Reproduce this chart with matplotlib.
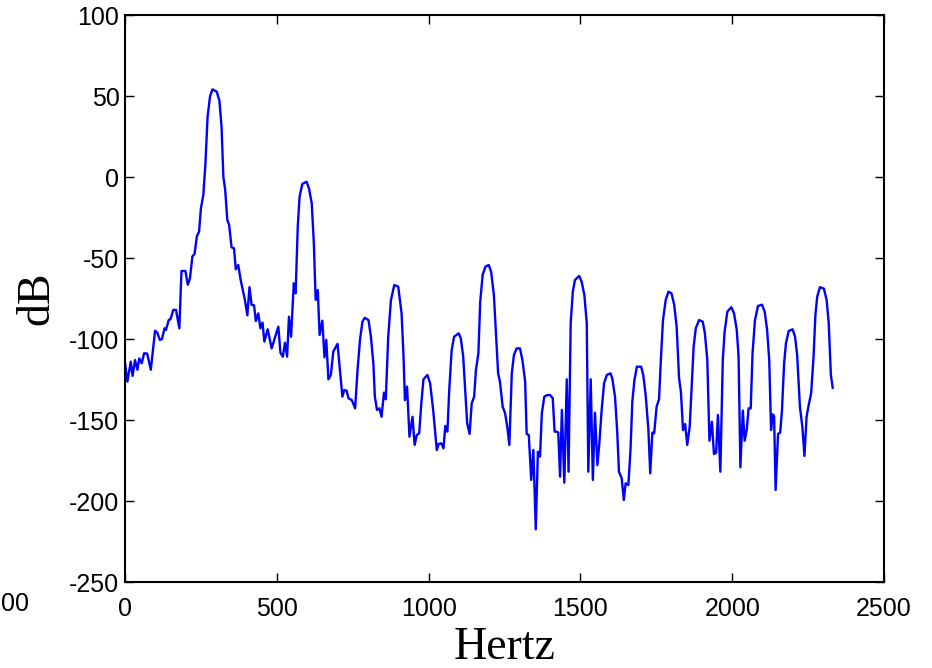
import matplotlib
matplotlib.use("Agg")
import matplotlib.pyplot as plt
import numpy as np

# Frequency (Hz) and magnitude (dB)
hertz = [0, 8, 19, 25, 33, 41, 47, 55, 63, 73, 85, 99, 106, 115, 122, 130, 135, 144, 150, 159,
         168, 179, 186, 199, 207, 214, 222, 229, 237, 244, 250, 258, 265, 272, 280, 288, 302, 311,
         318, 324, 330, 337, 343, 351, 359, 365, 373, 381, 395, 403, 410, 417, 425, 431, 439, 446,
         453, 459, 470, 483, 505, 512, 520, 527, 534, 540, 547, 556, 562, 569, 575, 584, 598, 606,
         615, 622, 628, 635, 641, 650, 657, 663, 670, 678, 686, 700, 708, 716, 722, 730, 736, 747,
         758, 766, 774, 782, 790, 802, 810, 818, 823, 830, 838, 845, 853, 859, 867, 876, 887, 900,
         911, 917, 922, 929, 937, 947, 954, 961, 969, 976, 983, 996, 1005, 1015, 1027, 1033, 1042,
         1049, 1055, 1062, 1068, 1076, 1084, 1099, 1106, 1114, 1121, 1127, 1135, 1142, 1150, 1156,
         1164, 1170, 1178, 1187, 1198, 1206, 1215, 1222, 1229, 1235, 1244, 1252, 1259, 1266, 1274,
         1281, 1290, 1301, 1309, 1318, 1323, 1330, 1338, 1345, 1353, 1360, 1367, 1373, 1381, 1391,
         1400, 1409, 1415, 1422, 1427, 1433, 1439, 1447, 1455, 1461, 1468, 1475, 1482, 1496, 1504,
         1513, 1521, 1526, 1534, 1541, 1548, 1556, 1562, 1570, 1578, 1587, 1599, 1605, 1614, 1621,
         1627, 1636, 1643, 1649, 1658, 1665, 1671, 1678, 1686, 1700, 1707, 1715, 1724, 1730, 1737,
         1743, 1751, 1759, 1765, 1772, 1781, 1790, 1800, 1809, 1817, 1825, 1831, 1838, 1845, 1852,
         1860, 1867, 1873, 1880, 1891, 1903, 1910, 1918, 1925, 1933, 1940, 1947, 1953, 1961, 1969,
         1975, 1984, 1997, 2006, 2015, 2021, 2027, 2035, 2041, 2048, 2054, 2061, 2067, 2075, 2085,
         2098, 2107, 2115, 2122, 2128, 2133, 2138, 2143, 2151, 2158, 2164, 2171, 2177, 2186, 2199,
         2207, 2214, 2223, 2231, 2238, 2245, 2252, 2260, 2268, 2274, 2280, 2289, 2302, 2311, 2318,
         2325, 2331]
db = [-114.8, -126.3, -114.0, -122.8, -113.0, -119.0, -112.0, -115.0, -108.8, -109.0, -119.0,
      -94.9, -96.0, -100.6, -100.0, -93.4, -94.4, -88.3, -87.8, -82.0, -82.0, -93.4, -58.0, -58.0,
      -66.5, -62.5, -49.0, -47.5, -36.4, -33.7, -19.3, -11.1, 8.5, 37.2, 49.6, 54.1, 52.7, 47.1,
      31.0, 0.2, -8.0, -26.5, -29.6, -43.4, -44.0, -57.0, -54.3, -63.6, -75.9, -85.4, -68.0,
      -79.0, -79.2, -88.9, -84.2, -93.4, -89.9, -101.6, -94.0, -105.8, -92.4, -108.5, -110.9,
      -102.3, -110.9, -86.2, -98.6, -65.6, -71.8, -30.7, -12.2, -4.3, -2.9, -7.0, -16.2, -40.9,
      -75.9, -69.8, -97.5, -88.7, -111.3, -100.6, -124.9, -122.2, -107.8, -103.0, -119.0, -135.6,
      -131.5, -131.9, -136.6, -137.7, -142.8, -119.0, -100.6, -89.3, -86.9, -88.3, -98.6, -115.0,
      -135.6, -143.8, -142.8, -148.0, -133.1, -137.2, -98.6, -75.9, -66.7, -67.7, -84.2, -108.8,
      -137.7, -129.4, -160.3, -148.0, -165.4, -159.3, -158.2, -139.7, -124.9, -122.2, -127.3,
      -143.8, -168.5, -164.8, -164.4, -167.5, -153.7, -157.2, -131.5, -106.8, -98.6, -96.5, -99.6,
      -110.9, -133.5, -152.0, -158.6, -139.7, -135.6, -119.0, -108.8, -77.0, -60.5, -55.4, -54.3,
      -58.5, -72.8, -96.5, -121.2, -126.3, -141.8, -145.9, -154.1, -165.4, -121.2, -109.9, -105.8,
      -105.8, -113.0, -126.3, -158.6, -159.3, -187.0, -168.5, -217.5, -169.6, -172.6, -145.9,
      -135.6, -134.6, -134.6, -136.6, -157.2, -157.2, -157.8, -185.0, -143.8, -188.7, -124.9,
      -181.9, -90.3, -70.8, -63.6, -61.1, -64.6, -72.8, -90.3, -181.9, -124.9, -187.0, -145.5,
      -177.8, -165.4, -143.8, -127.3, -122.2, -121.2, -124.3, -135.6, -156.2, -181.9, -186.0,
      -199.4, -189.1, -190.1, -168.5, -138.7, -125.3, -117.1, -117.1, -122.2, -134.6, -156.2,
      -182.9, -157.8, -158.2, -141.8, -137.2, -113.0, -88.3, -75.9, -70.8, -71.8, -79.0, -92.4,
      -124.3, -132.5, -156.2, -152.5, -165.4, -154.1, -127.3, -104.7, -93.4, -88.3, -89.3, -96.5,
      -113.0, -162.8, -151.1, -171.0, -170.2, -146.9, -181.9, -113.0, -95.5, -83.1, -80.4, -84.2,
      -94.4, -110.9, -179.2, -144.2, -162.8, -155.8, -142.8, -142.8, -108.8, -88.3, -79.6, -78.8,
      -83.1, -94.4, -113.0, -156.2, -146.5, -147.5, -193.2, -158.6, -157.8, -143.8, -115.0,
      -102.7, -95.1, -94.0, -98.6, -109.9, -141.8, -154.1, -172.2, -148.0, -140.7, -133.5,
      -110.9, -85.2, -73.9, -68.0, -68.9, -75.9, -90.3, -122.2, -130.1]

x_ticks = [0, 500, 1000, 1500, 2000, 2500]
y_ticks = [-250, -200, -150, -100, -50, 0, 50, 100]

W, H = 932, 668
fig = plt.figure(figsize=(W / 100, H / 100), dpi=100)
ax = fig.add_axes([125 / W, 1 - 582 / H, (884 - 125) / W, (582 - 15) / H])

ax.plot(hertz, db, color=(0, 0, 1), linewidth=1.7)

ax.set_xlim(0, 2500)
ax.set_ylim(-250, 100)
ax.set_xticks(x_ticks)
ax.set_yticks(y_ticks)
ax.set_xticklabels([str(v) for v in x_ticks])
ax.set_yticklabels([str(v) for v in y_ticks])

tick_font = "Liberation Sans"
for lab in ax.get_xticklabels() + ax.get_yticklabels():
    lab.set_fontfamily(tick_font)
    lab.set_fontsize(18)

ax.tick_params(direction="in", length=6.5, width=1.0, top=True, right=True, colors="black")
ax.tick_params(axis="x", pad=11)
ax.tick_params(axis="y", pad=4)
for s in ax.spines.values():
    s.set_linewidth(1.5)
    s.set_color("black")

ax.set_xlabel("Hertz", fontfamily="Liberation Serif", fontsize=33, labelpad=4)
ax.set_ylabel("dB", fontfamily="Liberation Serif", fontsize=33, labelpad=8)

# label fragment visible at the lower-left edge of the reference
fig.text(0.5 / W, 1 - 604 / H, "00", ha="left", va="center",
         fontfamily="Liberation Sans", fontsize=18)

fig.savefig("out.png", dpi=100)
